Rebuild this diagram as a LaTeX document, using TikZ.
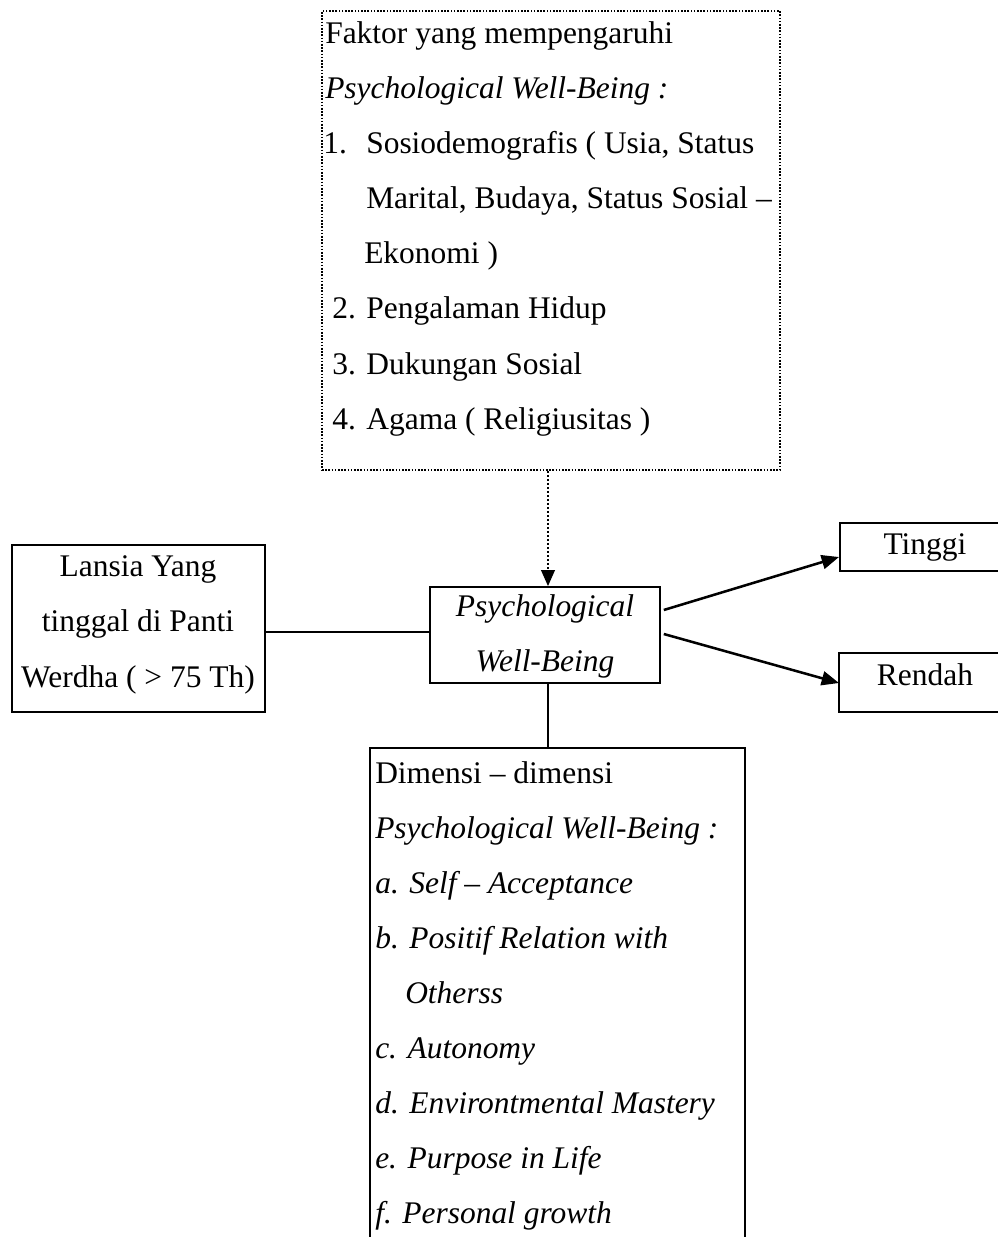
\documentclass[tikz,border=0pt]{standalone}
\usepackage{fontspec}
\setmainfont{Liberation Serif}
\usetikzlibrary{arrows.meta,fit,calc}
\tikzset{
  box/.style={draw, line width=1.2pt, inner sep=0pt},
  dotbox/.style={draw, line width=1.2pt, dash pattern=on 1.2pt off 1.2pt, inner sep=0pt},
  txt/.style={anchor=base west, inner sep=0pt, font=\fontsize{23.6}{27}\selectfont},
  ctxt/.style={anchor=base, inner sep=0pt, font=\fontsize{23.6}{27}\selectfont},
  conn/.style={line width=1.4pt},
  arr/.style={line width=1.9pt, -{Triangle[length=13pt,width=10.5pt]}},
  dotarr/.style={line width=1.9pt, dash pattern=on 1.5pt off 1.5pt, -{Triangle[length=12pt,width=10pt]}}
}
\begin{document}
\begin{tikzpicture}[x=0.75pt,y=-0.75pt]
\useasboundingbox (0,0) rectangle (998,1237);

% top dotted box
\node[dotbox, fit={(322,11) (780,470)}] (faktor) {};
\node[txt] (f1) at (325,44) {Faktor yang mempengaruhi};
\node[txt] (f2) at (325,99) {\textit{Psychological Well-Being :}};
\node[txt] (f3n) at (323,154) {1.};
\node[txt] (f3) at (366,154) {Sosiodemografis ( Usia, Status};
\node[txt] (f4) at (366,209) {Marital, Budaya, Status Sosial –};
\node[txt] (f5) at (364,264) {Ekonomi )};
\node[txt] (f6) at (332,319) {2. Pengalaman Hidup};
\node[txt] (f7) at (332,374) {3. Dukungan Sosial};
\node[txt] (f8) at (332,429) {4. Agama ( Religiusitas )};

% left box
\node[box, fit={(12,545) (265,712)}] (lansia) {};
\node[ctxt] (l1) at (138,576) {Lansia Yang};
\node[ctxt] (l2) at (138,631) {tinggal di Panti};
\node[ctxt] (l3) at (138,687) {Werdha ( > 75 Th)};

% central box
\node[box, fit={(430,587) (660,683)}] (pwb) {};
\node[ctxt] (p1) at (545,616) {\textit{Psychological}};
\node[ctxt] (p2) at (545,671) {\textit{Well-Being}};

% dimensi box (open at bottom)
\coordinate (dimtop) at (548,748);
\draw[line width=1.2pt] (370,1240) -- (370,748) -- (745,748) -- (745,1240);
\node[txt] (d1) at (375,783) {Dimensi – dimensi};
\node[txt] (d2) at (375,838) {\textit{Psychological Well-Being :}};
\node[txt] (d3) at (375,893) {\textit{a. Self – Acceptance}};
\node[txt] (d4) at (375,948) {\textit{b. Positif Relation with}};
\node[txt] (d5) at (405,1003) {\textit{Otherss}};
\node[txt] (d6) at (375,1058) {\textit{c. Autonomy}};
\node[txt] (d7) at (375,1113) {\textit{d. Environtmental Mastery}};
\node[txt] (d8) at (375,1168) {\textit{e. Purpose in Life}};
\node[txt] (d9) at (375,1223) {\textit{f. Personal growth}};

% Tinggi / Rendah boxes (open at right)
\coordinate (tinggiW) at (839,557);
\coordinate (rendahW) at (839,683);
\draw[line width=1.2pt] (1000,523) -- (840,523) -- (840,571) -- (1000,571);
\draw[line width=1.2pt] (1000,653) -- (839,653) -- (839,712) -- (1000,712);
\node[ctxt] (t1) at (925,554) {Tinggi};
\node[ctxt] (r1) at (925,685) {Rendah};

% connectors
\draw[dotarr] (faktor.south -| dimtop) -- (pwb.north -| dimtop);
\draw[conn] (lansia.east |- 0,632) -- (pwb.west |- 0,632);
\draw[conn] (pwb.south -| dimtop) -- (dimtop);
\draw[arr] ($(pwb.east)+(3,-25)$) -- (tinggiW);
\draw[arr] ($(pwb.east)+(3,-1)$) -- (rendahW);
\end{tikzpicture}
\end{document}
